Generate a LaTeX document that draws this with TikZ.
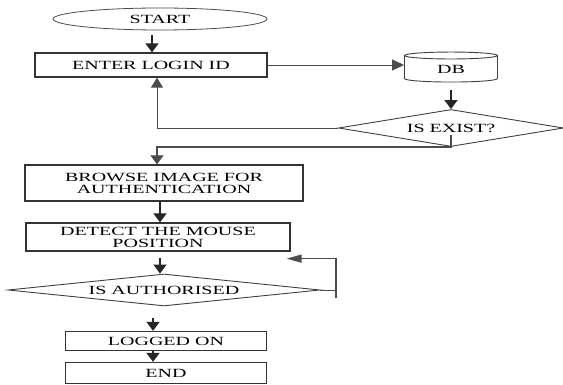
\documentclass[tikz,border=0pt]{standalone}
\usepackage{fontspec}
\newfontfamily\flowfont[FakeStretch=1.6]{Liberation Serif}
\usetikzlibrary{shapes.geometric, arrows.meta}

\begin{document}
\begin{tikzpicture}[x=1pt, y=-1pt,
    every node/.style={font=\flowfont\fontsize{12.5}{12}\selectfont, inner sep=0pt, align=center},
    box/.style={draw=black!80, line width=1.3pt, rectangle},
    decision/.style={draw=black!75, line width=0.9pt, diamond},
    flow/.style={draw=black!70, line width=0.9pt},
    arr/.style={draw=black!85, line width=1.4pt, -{Triangle[width=13pt,length=9pt]}},
    looparr/.style={flow, -{Triangle[width=8pt,length=15pt]}}]
    \useasboundingbox (0,0) rectangle (563,385);

    \node[draw=black!70, line width=0.8pt, ellipse, minimum width=214pt, minimum height=22pt] (start) at (160,19) {START};
    \node[box, minimum width=232pt, minimum height=24pt] (enter) at (151,65) {ENTER LOGIN ID};
    \node[draw=black!75, line width=0.9pt, cylinder, shape border rotate=90, aspect=0.25,
          minimum width=93pt, minimum height=30pt] (db) at (451,69) {DB};
    \node[decision, aspect=8, minimum width=225pt, minimum height=37pt] (exist) at (451,128) {IS EXIST?};

    \node[box, minimum width=278pt, minimum height=36pt] (browse) at (164,183) {BROWSE IMAGE FOR\\AUTHENTICATION};
    \node[box, minimum width=264pt, minimum height=28pt] (detect) at (158,237) {DETECT THE MOUSE\\POSITION};
    \node[decision, aspect=12, minimum width=312pt, minimum height=32pt] (auth) at (164,290) {IS AUTHORISED};
    \coordinate (loop) at (336,298);

    \node[box, minimum width=201pt, minimum height=19pt] (logged) at (166,341) {LOGGED ON};
    \node[box, minimum width=201pt, minimum height=21pt] (end) at (166,373) {END};

    % connectors
    \draw[arr] ([xshift=-8pt,yshift=-5pt]start.south) -- ([xshift=1pt]enter.north);
    \draw[flow, -{Triangle[width=11pt,length=12pt]}] (enter.east) -- (enter.east -| db.west);
    \draw[arr] ([yshift=-8pt]db.south) -- (exist.north);
    \draw[flow, -{Triangle[width=12pt,length=10pt]}] (exist.west) -| ([xshift=6pt]enter.south);
    \draw[flow, line width=1.2pt, -{Triangle[width=13pt,length=9pt]}] ([yshift=-7pt]exist.center) -- (exist.south) -| ([xshift=-7pt]browse.north);
    \draw[arr] ([xshift=-4pt]browse.south) -- ([xshift=2pt]detect.north);
    \draw[arr] ([xshift=2pt,yshift=-6pt]detect.south) -- ([xshift=-4pt]auth.north);
    \draw[flow] (auth.east) -- (auth.east -| loop);
    \draw[looparr, line width=1.6pt] (loop) |- ([xshift=-4pt,yshift=-7pt]detect.south east);
    \draw[arr] ([xshift=-11pt,yshift=-12pt]auth.south) -- ([xshift=-13pt]logged.north);
    \draw[arr] ([xshift=-13pt]logged.south) -- ([xshift=-13pt]end.north);
\end{tikzpicture}
\end{document}
